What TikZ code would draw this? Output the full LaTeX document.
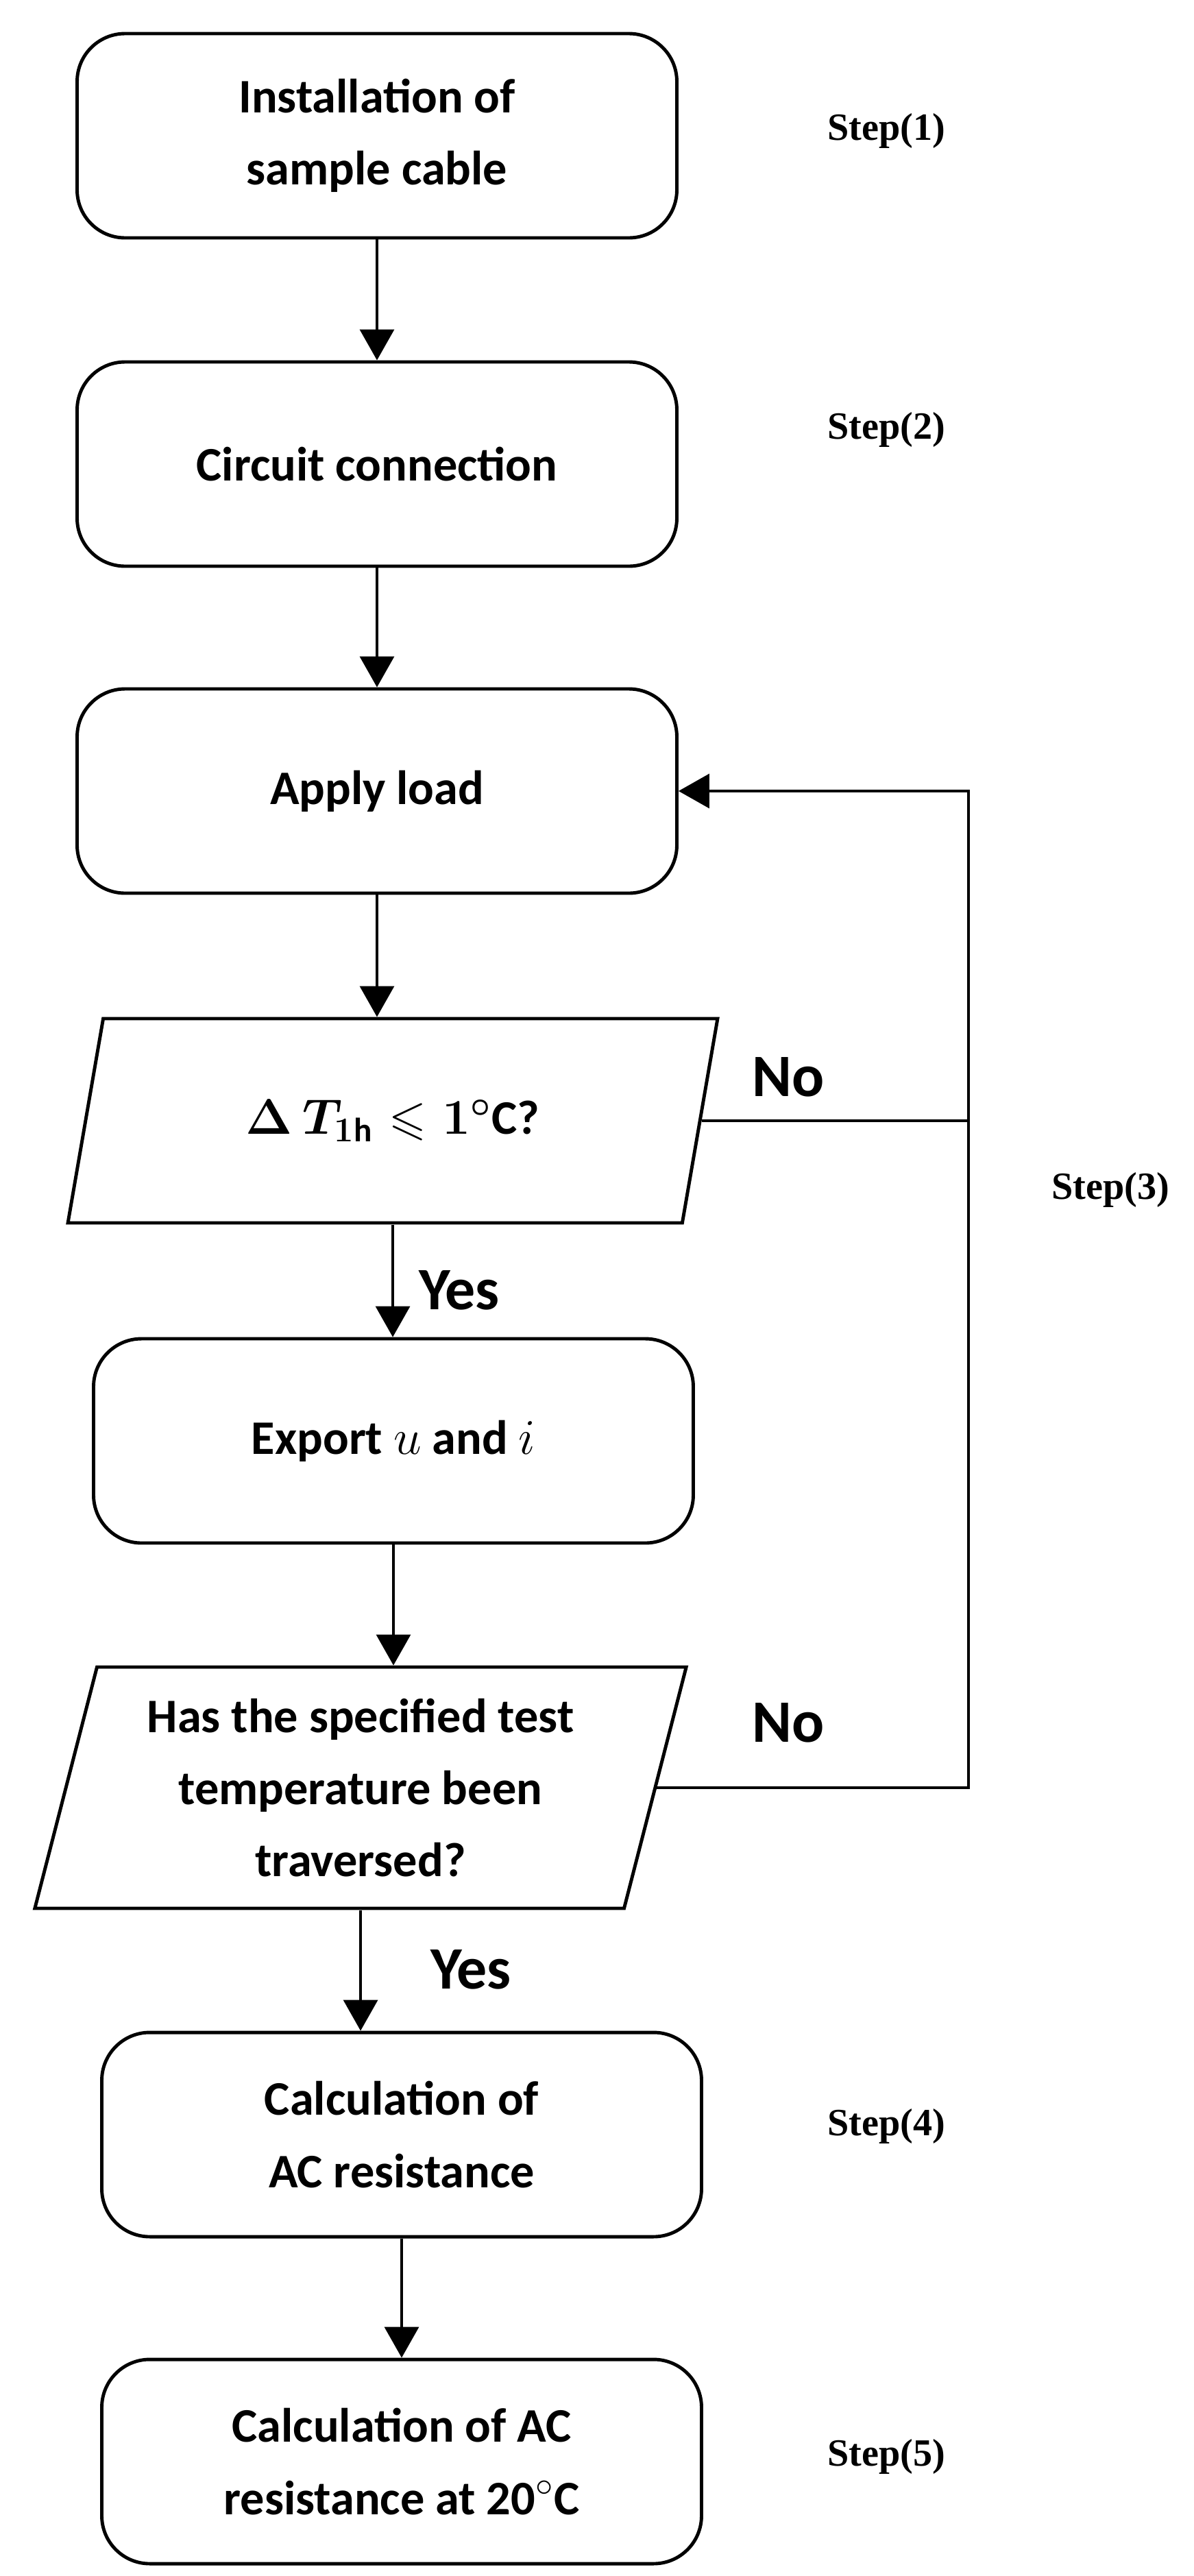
\documentclass[tikz,border=0pt]{standalone}
\usepackage{amssymb}
\usepackage{fontspec}
\setmainfont{Carlito}
\newfontfamily\stepfont{Liberation Serif}
\usetikzlibrary{shapes.geometric,arrows.meta}

\begin{document}
\begin{tikzpicture}[
    box/.style={rectangle, rounded corners=0.7cm, draw, line width=1.4pt, minimum width=8.75cm, minimum height=2.98cm, align=center, font=\fontsize{20}{30}\selectfont\bfseries},
    para/.style={trapezium, trapezium stretches=true, draw, line width=1.4pt, align=center, font=\fontsize{20}{30}\selectfont\bfseries\boldmath},
    steplab/.style={font=\fontsize{16}{18}\selectfont\stepfont\bfseries},
    lab/.style={font=\fontsize{25}{28}\selectfont\bfseries},
    arr/.style={-{Triangle[length=4.5mm,width=5mm]}, line width=1pt},
  ]
    \useasboundingbox (0,0) rectangle (17.42,-37.58);

    % boxes
    \node[box] (B1) at (5.50, -1.98) {Installation of\\sample cable};
    \node[box] (B2) at (5.50, -6.77) {Circuit connection};
    \node[box] (B3) at (5.50, -11.54) {Apply load};
    \node[para, trapezium left angle=72, trapezium right angle=108, minimum width=9.49cm, minimum height=2.98cm] (P1) at (5.73, -16.35) {$\Delta\,T_{1\mathrm{h}}\leqslant 1^{\circ}$C?};
    \node[box] (B4) at (5.74, -21.02) {Export $u$ and $i$};
    \node[para, trapezium left angle=75, trapezium right angle=105, minimum width=9.52cm, minimum height=3.52cm] (P2) at (5.26, -26.08) {Has the specified test\\temperature been\\traversed?};
    \node[box] (B5) at (5.86, -31.14) {Calculation of\\AC resistance};
    \node[box] (B6) at (5.86, -35.91) {Calculation of AC\\resistance at 20$^{\circ}$C};

    % steps
    \node[steplab] (S1) at (12.93, -1.91) {Step(1)};
    \node[steplab] (S2) at (12.93, -6.27) {Step(2)};
    \node[steplab] (S3) at (16.20, -17.36) {Step(3)};
    \node[steplab] (S4) at (12.93, -31.02) {Step(4)};
    \node[steplab] (S5) at (12.93, -35.84) {Step(5)};

    % edges
    \coordinate (back) at (14.13, -11.54);
    \draw[arr] (B1) -- (B2);
    \draw[arr] (B2) -- (B3);
    \draw[arr] (B3) -- (B3 |- P1.north);
    \draw[arr] (P1.south) -- (P1.south |- B4.north);
    \draw[arr] (B4) -- (B4 |- P2.north);
    \draw[arr] (P2.south) -- (P2.south |- B5.north);
    \draw[arr] (B5) -- (B6);
    \draw[line width=1pt] (P1.east) -- (P1.east -| back);
    \draw[arr] (P2.east) -| (back) -- (B3.east);

    % labels
    \node[lab] (N1) at (11.50, -15.71) {No};
    \node[lab] (N2) at (11.50, -25.13) {No};
    \node[lab] (Y1) at (6.70, -18.82) {Yes};
    \node[lab] (Y2) at (6.87, -28.73) {Yes};
\end{tikzpicture}
\end{document}
